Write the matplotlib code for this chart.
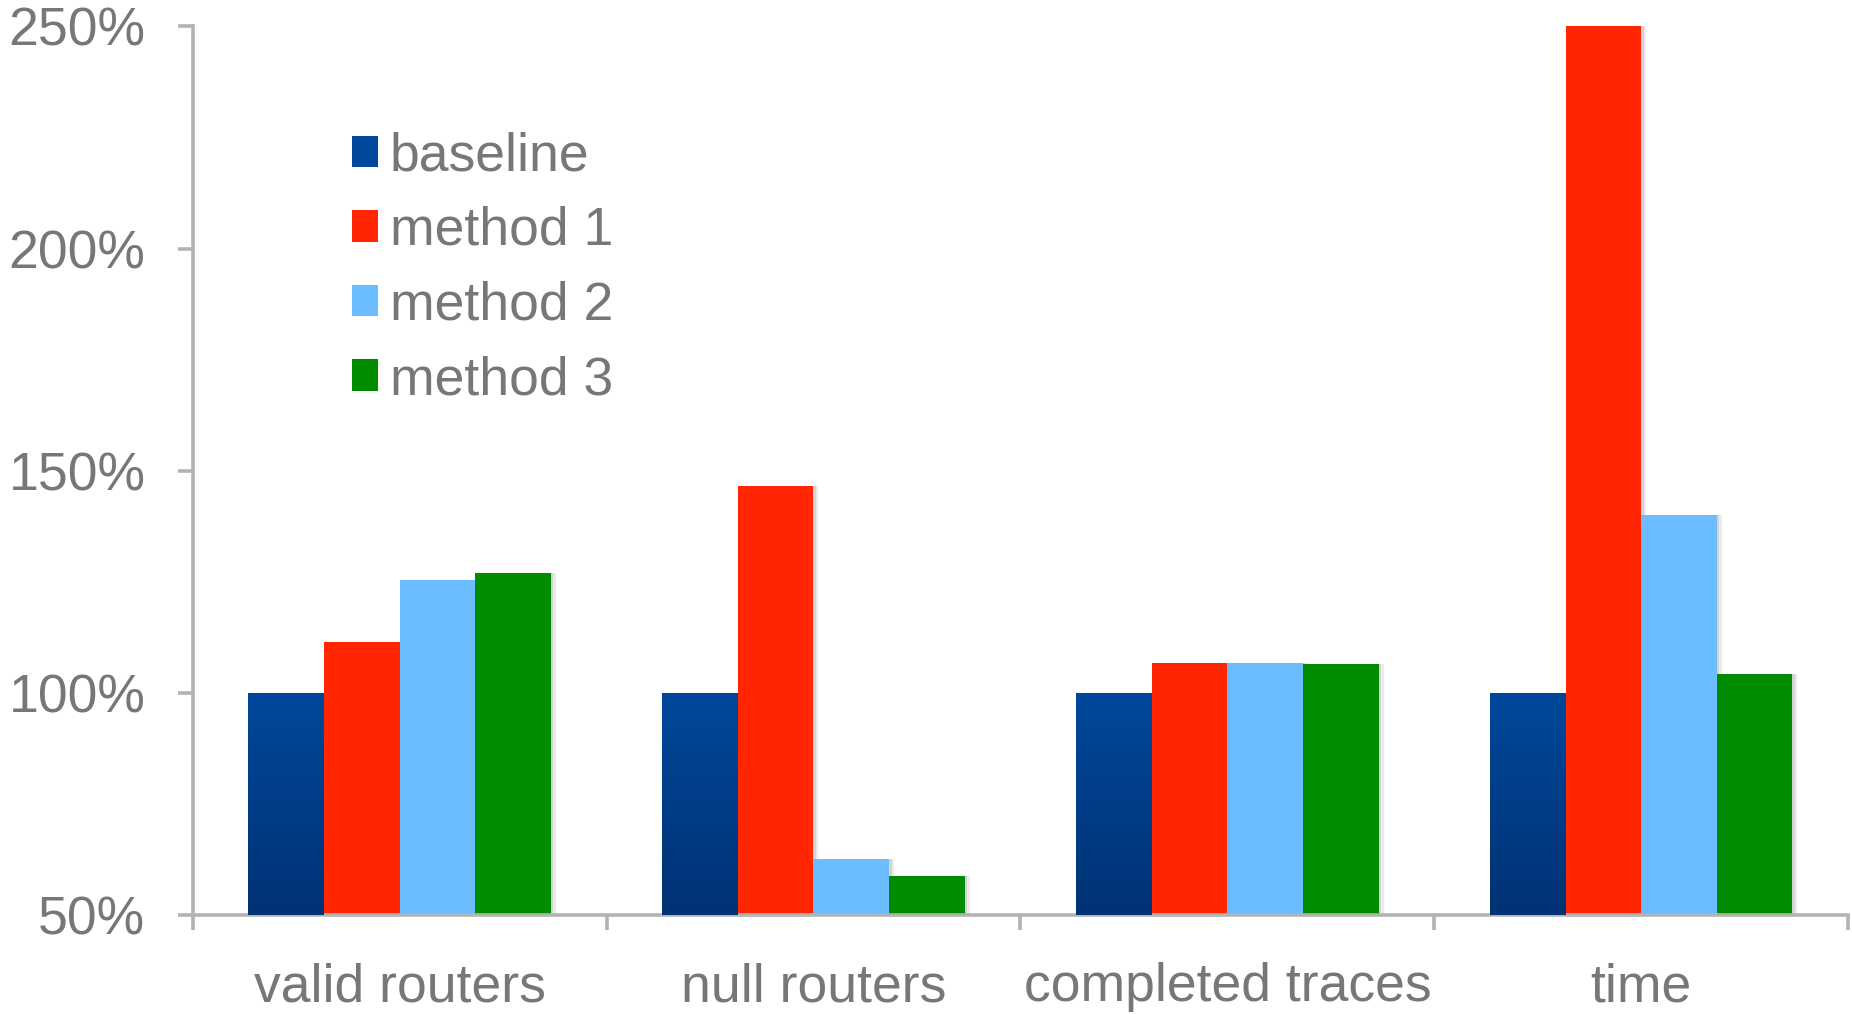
import numpy as np
import matplotlib
matplotlib.use("Agg")
import matplotlib.pyplot as plt
from matplotlib.patches import Patch
from matplotlib.ticker import FixedLocator

plt.rcParams['font.family'] = ['Liberation Sans', 'DejaVu Sans']

# data: relative to baseline, in percent
categories = ["valid routers", "null routers", "completed traces", "time"]
series_names = ["baseline", "method 1", "method 2", "method 3"]
baseline = [100, 100, 100, 100]
method1 = [111.5, 146.5, 106.7, 250]
method2 = [125.5, 62.7, 106.7, 140]
method3 = [127, 58.8, 106.4, 104.3]
yticks = [50, 100, 150, 200, 250]
ytick_labels = ["50%", "100%", "150%", "200%", "250%"]

colors = ["#00489b", "#ff2600", "#6cbdff", "#008c00"]
text_grey = "#777777"
axis_grey = "#b3b3b3"
fs = 38.5

fig = plt.figure(figsize=(18.52, 10.14), dpi=100)
ax = fig.add_axes([0.104, 0.0976, 0.894, 0.8764])

width = 0.1826
x = np.arange(len(categories)) + 0.5
all_series = [baseline, method1, method2, method3]
bar_groups = []
for k, vals in enumerate(all_series):
    pos = x + (k - 1.5) * width
    # soft shadow on the right side of each bar
    for s, a in [(0.012, 0.08), (0.006, 0.10)]:
        ax.bar(pos + s, np.array(vals) - 50, width, bottom=50, color="#000000",
               alpha=a, linewidth=0, zorder=1)
    bars = ax.bar(pos, np.array(vals) - 50, width, bottom=50, color=colors[k],
                  linewidth=0, zorder=2)
    bar_groups.append(bars)

# vertical gradient for the baseline bars
grad = np.linspace(0, 1, 256).reshape(-1, 1)
cmap = matplotlib.colors.LinearSegmentedColormap.from_list(
    "bl", ["#003274", "#00489b"])
for b in bar_groups[0]:
    x0, y0 = b.get_x(), b.get_y()
    im = ax.imshow(grad, cmap=cmap, origin="lower", aspect="auto",
                   extent=[x0, x0 + b.get_width(), y0, y0 + b.get_height()],
                   zorder=3)
    im.set_clip_path(b)

ax.set_xlim(0, 4)
ax.set_ylim(50, 250)

for side in ["top", "right"]:
    ax.spines[side].set_visible(False)
for side in ["left", "bottom"]:
    ax.spines[side].set_color(axis_grey)
    ax.spines[side].set_linewidth(2.6)

ax.set_yticks(yticks)
ax.set_yticklabels(ytick_labels)
ax.tick_params(axis="y", length=11, width=2.6, color=axis_grey, pad=23,
               labelsize=fs, labelcolor=text_grey)

ax.set_xticks(x)
ax.set_xticklabels(categories)
ax.tick_params(axis="x", which="major", length=0, pad=34,
               labelsize=fs, labelcolor=text_grey)
ax.xaxis.set_minor_locator(FixedLocator(np.arange(0, 5)))
ax.tick_params(axis="x", which="minor", length=11, width=2.6, color=axis_grey)

handles = [Patch(facecolor=c, edgecolor="none") for c in colors]
leg = ax.legend(handles, series_names, loc="upper left",
                bbox_to_anchor=(0.0965, 0.882), frameon=False, fontsize=fs,
                handlelength=0.48, handleheight=0.53, handletextpad=0.22,
                labelspacing=0.46, borderpad=0, borderaxespad=0)
for t in leg.get_texts():
    t.set_color(text_grey)

ax.set_facecolor("white")
fig.savefig("out.png", dpi=100, facecolor="white")
